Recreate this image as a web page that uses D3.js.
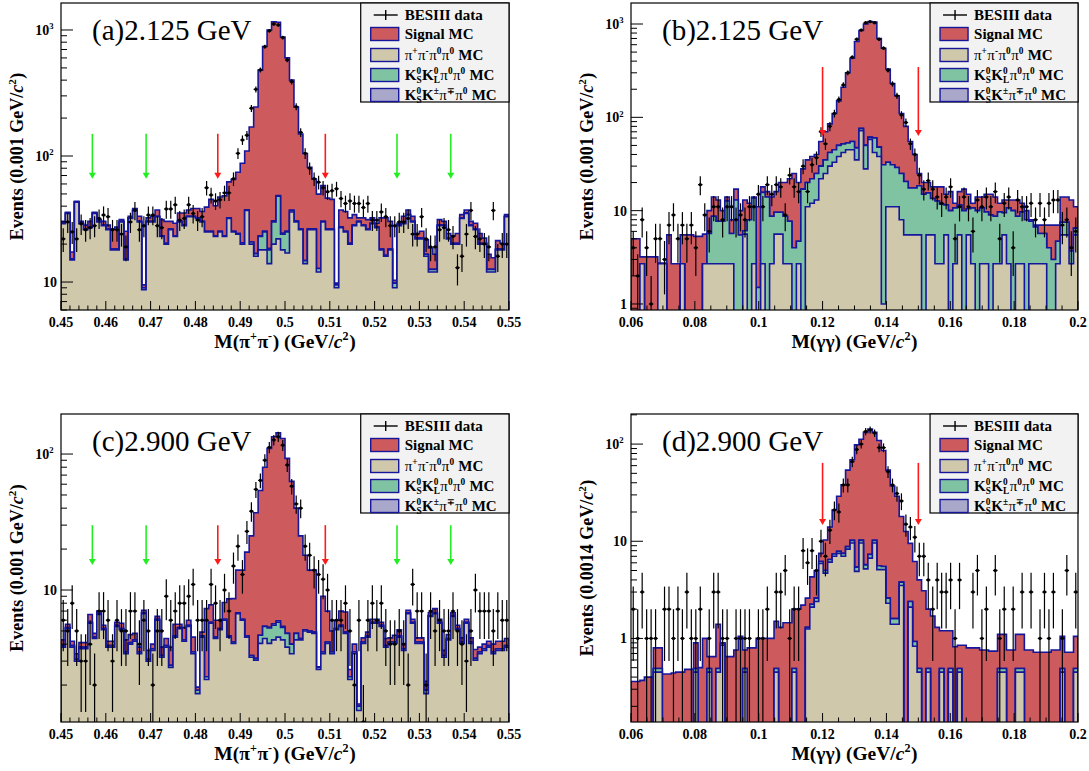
<!DOCTYPE html>
<html><head><meta charset="utf-8">
<script src="https://cdn.jsdelivr.net/npm/d3@7"></script>
<style>body{margin:0;background:#fff}svg{display:block}text{white-space:pre}</style>
</head><body>
<svg id="chart" width="1089" height="771"></svg>
<script>
// ---------------- DATA ----------------
// Panel (a): M(pi+pi-) at 2.125 GeV, 100 bins 0.45-0.55
const aRange = [0.45, 0.55];
const aBkg = [29,35,15,43,29,26,27,35,30,28, 26,18,18,30,15,32,37,30,8.7,30, 30,33,23,20,26,23,30,28,33,33,
  32,30,25,25,23,25,23,32,25,24, 20,37,20,16,18,18,14,20,22,18, 17,36,30,26,14,26,26,12,30,26,
  26,9,27,25,20,28,30,28,26,29, 27,18,16,18,9,28,29,34,30,22, 22,16,12,12,28,28,22,20,20,32,
  35,28,26,20,20,12,12,18,18,33];
const aKsKl = [0.3,0.3,0.3,0.3,0.3,0.3,0.3,0.3,0.3,0.3, 0.3,0.3,0.3,0.3,0.3,0.3,0.3,0.3,0.3,0.3,
  0.3,0.3,0.3,0.3,0.3,0.3,0.3,0.3,0.3,0.3, 0.3,0.3,0.3,0.3,0.3,0.3,0.3,0.3,0.3,0.3,
  0.5,0.5,0.8,0.8,5,7,4,10,26,6, 8,1,0.5,0.5,0.8,0.5,0.5,0.8,0.3,0.3,
  0.3,0.5,0.3,0.3,0.3,0.3,0.3,0.3,0.3,0.3, 0.3,0.3,0.3,0.3,0.8,0.3,0.3,0.3,0.3,0.3,
  0.3,0.6,0.6,0.6,0.3,0.3,0.3,0.3,0.3,0.3, 0.3,0.3,0.3,0.3,0.3,0.6,0.6,0.3,0.3,0.3];
const aKskBins = [44,45,46,47,48,49,50,51];
const aKskVals = [0.3,0.4,0.5,0.6,0.6,0.5,0.4,0.3];
const aSig = [1,0.5,2,0.5,1,2,3,0.5,1,2, 2,8,9,1,10,1,1,3,0.5,2, 3,4,8,10,4,6,5,7,4,5,
  6,6,14,20,17,22,25,30,40,50, 67,72,149,228,457,715,982,1130,1102,856,
  575,363,214,123,90,55,39,37,28,20, 19,0.3,10,11,12,6,2,4,5,3, 2,14,16,12,0.5,1,4,3,3,2,
  3,5,6,4,3,2,2,3,4,2, 2,2,3,4,2,4,3,3,2,1];
const aData = [22,30,25,22,29,26,27,28,32,34, 33,26,26,24,19,30,37,26,28,34, 34,28,27,38,38,41,31,32,41,35,
  31,33,56,49,44,45,51,51,66,105, 134,146,239,338,482,738,987,1116,1095,870,
  578,389,246,154,105,80,66,62,56,52, 53,55,46,42,44,42,42,39,42,31, 31,36,33,28,28,30,30,32,24,24,
  33,22,19,19,26,27,26,23,13,16, 24,37,23,22,20,19,37,16,20,20];

// Panel (b): M(gamma gamma) at 2.125 GeV, 100 bins 0.06-0.2
const bRange = [0.06, 0.2];
const bBkg = [0,0,2.7,0,0,0,2.7,2.7,0,0, 0,2.7,0,0,0,0,2.7,2.7,2.7,2.7, 2.7,2.7,2.7,0,0,5.6,0,2.7,0,2.7,
  0,2.7,5.6,5.6,2.7,2.7,0,2.7,0,11, 12,13,22,25,30,33,38,42,45,45, 35,72,28,58,42,38,1.0,11,11,11,
  8,5.5,5.5,5.5,5.5,0,5.5,5.5,2.7,2.7, 5.5,0,2.7,5.5,0,5.5,2.7,0,2.7,2.7, 0,2.7,2.7,5.5,2.7,0,2.7,2.7,0,2.7,
  2.7,2.7,2.7,0,0,2.7,5.5,5.5,2.7,5.5];
const bKsKl = [0,0,0,0,0,0,0,0,0,0, 0,0,0,0,0,0,0,3,6,5, 5,10,3,13,5.5,0.5,8,11,1.5,13,
  14,6,4,4,6,5,4,2,17,9, 10,12,8,10,12,12,12,10,8,10, 12,4,22,3,18,10,30,22,20,18,
  17,15,12,12,13,15,10,8,10,9, 6,10,8,6,10,5,8,10,8,7, 9,6,7,4,8,10,6,7,8,5, 4,3,3,4,3,2,2,2,1,1];
const bKskBins = [50,51,52,53,54,55];
const bKskVals = [0.4,0.5,0.6,0.6,0.5,0.4];
const bSig = [5,5,0.5,3.2,3.2,3.2,0.05,0.05,5.5,2.7, 2.7,2.8,5.5,5.5,5.3,5.3,2.9,4.3,5.3,5.3,
  2.3,1.3,2.3,4,4.5,6.9,4,0.3,9.5,2.3, 2,5.3,6.4,10.4,11.3,14.3,21,15.3,11,15, 16,15,25,35,43,65,100,158,247,375,
  603,774,950,999,990,652,519,297,199,141, 85,59.5,37.5,22.5,6.5,5,4.5,4.5,5.3,6.3,
  3.5,6,1.3,4.5,7,4.5,1.3,4,3.3,5.3, 6,5.3,2.3,3.5,2.3,3,4.3,2.3,2,0.3, 0.3,1.3,1.3,3,4,2.3,6.5,6.5,9.3,4.5];
const bData = [4,2,8,4,1,5,5,3,7,9, 5,7,5,7,4,19,9,6,11,11, 8,11,11,8,9,8,11,11,15,11,
  19,15,19,18,9,24,18,16,30,16, 31,37,70,52,80,110,155,222,300,440, 686,860,1033,1060,1030,686,550,320,228,170,
  106,88,52,40,24,17,21,17,14,12, 14,18,5,11,14,11,6,13,11,14, 11,16,5,12,14,4,13,11,11,12, 8,12,8,12,13,13,7,8,4,6];

// Panel (c): M(pi+pi-) at 2.900 GeV
const cRange = [0.45, 0.55];
const cBkg = [3.8,5.2,3.8,3.0,3.7,3.7,5.7,4.4,6.6,5.1, 3.8,3.8,5.4,5.1,3.4,4.0,4.2,3.4,6.7,3.0,
  3.6,6.0,3.2,3.8,2.7,4.5,5.2,4.2,5.4,3.4, 1.73,4.5,2.2,5.7,4.4,5.1,6.0,4.5,4.05,6.7,
  6.0,4.5,3.2,3.05,4.05,4.4,4.05,4.3,4.5,4.3, 3.8,3.4,4.3,4.3,5.0,4.9,4.8,2.6,3.4,4.05,
  3.4,5.1,5.4,4.8,2.2,3.4,1.3,4.05,4.5,5.7, 5.7,5.4,3.8,4.05,4.05,4.5,3.6,6.7,5.7,4.05,
  4.05,1.73,6.4,6.7,5.7,3.2,4.3,6.4,5.1,4.05, 5.7,4.05,3.05,3.4,3.6,3.8,3.4,3.6,3.6,3.8];
const cKsKl = [0.1,0.1,0.1,0.1,0.1,0.1,0.1,0.1,0.1,0.1, 0.1,0.1,0.1,0.1,0.1,0.1,0.1,0.1,0.1,0.1,
  0.1,0.1,0.1,0.1,0.1,0.1,0.1,0.1,0.1,0.1, 0.1,0.1,0.1,0.1,0.1,0.1,0.1,0.1,0.1,0.1,
  0.1,0.1,0.1,0.1,0.6,1.0,1.2,1.2,1.3,1.0, 1.0,0.6,0.5,0.1,0.1,0.1,0.1,0.1,0.1,0.1,
  0.1,0.1,0.1,0.1,0.1,0.1,0.1,0.1,0.1,0.1, 0.1,0.1,0.1,0.1,0.1,0.1,0.1,0.1,0.1,0.1,
  0.1,0.1,0.1,0.1,0.1,0.1,0.1,0.1,0.1,0.1, 0.1,0.1,0.1,0.1,0.1,0.1,0.1,0.1,0.1,0.1];
const cKskBins = [46,47,48,49];
const cKskVals = [0.1,0.15,0.15,0.1];
const cSig = [0.4,0.3,0.3,0.3,0.3,0.3,0.8,0.3,0.3,0.3, 0.3,0.3,0.3,0.5,0.8,0.6,0.5,0.3,0.3,0.5,
  0.3,0.3,0.5,0.5,1.0,1.0,0.3,1.0,0.5,1.0, 0.1,0.3,5,2,1.5,0.8,2,4,4.5,7.2,
  7.9,14.4,21.7,33.85,49.35,74.6,104.75,128.5,137.2,124.7, 88.2,59,35.2,20.6,12.9,9,9.1,0.02,5.5,2.85,
  1.5,0.8,1.5,2,0.3,0.5,0.05,0.3,0.3,0.3, 0.3,0.3,0.5,0.3,0.5,0.5,0.3,0.3,0.3,0.3,
  0.3,0.3,0.3,0.5,0.3,0.3,0.3,0.3,0.3,0.3, 0.3,0.3,0.5,0.3,0.3,0.3,0.5,0.5,0.5,0.5];
const cData = [6,5,8,5,3,3,4,2,7,7, 6,3,6,5,5,7,7,4,6,5, 2,5,5,9,6,7,8,8,9,11, 6,6,6,11,8,6,10,7,15,21,
  13,27,38,55,64,90,112,127,134,116, 83,58,43,40,21,18,14,13,12,10, 6,6,6,8,5,2,6,1,6,8,
  6,8,5,4,4,5,4,2,11,7, 7,2,7,5,6,5,5,7,5,4, 3,5,10,7,7,7,5,7,6,6];

// Panel (d): M(gamma gamma) at 2.900 GeV, 100 bins of 0.0014
const dRange = [0.06, 0.2];
const dBkg = [0,0,0,0,0,0.45,0.45,0,0,0, 0,0,0,0,0.45,0,0,0.45,0,0.45, 0.85,0,0,0,0,0.45,0,0,0,0,
  0,0,0.45,0,0,0,0.45,0,0,1.25, 2.1,2.4,5.9,4.7,6.1,7,7.5,7,8.3,9.6, 4.9,9.6,5.2,6.7,9.6,5.1,5.1,2.3,1.4,1.4,
  3.5,0,2.1,0.83,0.45,0,0.45,0,0,0.45, 0,0.45,0,0.45,0,0,0,0,0,0, 0,0,0.45,0.45,0,0,0.45,0.45,0,0,
  0,0,0,0,0,0,0.45,0,0,0.45];
const dKsKl = [0,0,0,0,0,0.04,0.04,0,0,0, 0,0,0,0,0.04,0,0,0.04,0,0.04, 0.04,0,0,0,0,0.04,0,0,0,0,
  0,0,0.04,0,0,0,0.04,0,0,0.05, 0.15,0.2,0.3,0.3,0.4,0.4,0.4,0.5,0.5,0.6, 0.5,0.6,0.5,0.6,0.6,0.5,0.4,0.3,0.2,0.2,
  0.3,0,0.3,0.1,0.04,0,0.04,0,0,0.04, 0,0.04,0,0.04,0,0,0,0,0,0, 0,0,0.04,0.04,0,0,0.04,0.04,0,0,
  0,0,0,0,0,0,0.04,0,0,0.04];
const dKskBins = [50,51,52,53];
const dKskVals = [0.05,0.06,0.06,0.05];
const dSig = [0.36,0.36,0.37,0.40,0.40,0.31,0.31,0.43,0.43,0.44, 0.45,0.45,0.48,0.48,0.41,0.5,1.0,0.16,0.65,0.91,
  0.01,0.65,0.65,0.76,1.05,0.27,0.8,0.8,1.0,1.0, 1.0,1.0,1.01,1.3,1.45,1.45,1.51,2.0,2.2,1.3,
  2.05,2.4,1.3,5.3,7.5,13.6,21.1,30.5,45.2,58.8, 92.6,101.8,126.3,135.7,121.8,103.4,80.5,51.4,35.4,27.4,
  14.2,12.6,7.1,5.27,3.51,3.1,1.51,1.7,1.3,0.71, 1.2,0.71,0.82,0.36,0.85,0.8,0.8,0.8,0.76,0.76,
  0.74,0.74,0.61,0.61,0.76,0.76,0.61,0.61,0.76,0.76, 0.72,0.72,0.72,0.72,0.76,0.76,0.56,0.72,0.72,0.56];
const dData = [2,1,3,1,1,1,0,2,2,1, 2,1,3,1,1,2,0,1,3,3, 1,1,0,1,1,1,1,0,1,1, 2,0,3,3,5,1,2,2,8,6,
  8,5,10,7,13,21,20,38,38,66, 88,100,135,140,130,92,92,52,38,31, 26,15,14,11,7,7,4,2,4,3,
  3,4,1,4,0,0,3,5,1,2, 0,5,1,2,0,2,0,3,0,3, 0,1,3,1,3,0,1,5,0,3];

const titles = ["(a)2.125 GeV", "(b)2.125 GeV", "(c)2.900 GeV", "(d)2.900 GeV"];
const binWidthLabels = ["0.001", "0.001", "0.001", "0.0014"];
const xTicksPiPi = [0.45,0.46,0.47,0.48,0.49,0.5,0.51,0.52,0.53,0.54,0.55];
const xTicksGG = [0.06,0.08,0.1,0.12,0.14,0.16,0.18,0.2];
const greenCuts = [0.457, 0.469, 0.525, 0.537];
const redCutsPiPi = [0.485, 0.509];
const redCutsGG = [0.12, 0.15];

// ---------------- STYLE / LAYOUT ----------------
const FONT = "'Liberation Serif','Times New Roman',serif";
const COL = {sig:"#cd5b5e", ksk:"#aaa8ca", kskl:"#80c3a2", bkg:"#cfc8aa", line:"#16169a"};

const panels = [
  {k:'a', x0:61, x1:509, y0:3, y1:310, range:aRange, ydom:[6.0,1637], bkg:aBkg, kskl:aKsKl, kskB:aKskBins, kskV:aKskVals, sig:aSig, data:aData,
   xt:xTicksPiPi, xminor:0.002, xlab:'pipi', green:greenCuts, red:redCutsPiPi, arrG:[150,66], arrR:[150,66]},
  {k:'b', x0:631, x1:1078, y0:3, y1:310, range:bRange, ydom:[0.862,1679], bkg:bBkg, kskl:bKsKl, kskB:bKskBins, kskV:bKskVals, sig:bSig, data:bData,
   xt:xTicksGG, xminor:0.005, xlab:'gg', green:[], red:redCutsGG, arrR:[346,63]},
  {k:'c', x0:61, x1:509, y0:414, y1:722, range:cRange, ydom:[1.07,197], bkg:cBkg, kskl:cKsKl, kskB:cKskBins, kskV:cKskVals, sig:cSig, data:cData,
   xt:xTicksPiPi, xminor:0.002, xlab:'pipi', green:greenCuts, red:redCutsPiPi, arrG:[30,15.3], arrR:[30,15.3]},
  {k:'d', x0:631, x1:1078, y0:414, y1:722, range:dRange, ydom:[0.138,204], bkg:dBkg, kskl:dKsKl, kskB:dKskBins, kskV:dKskVals, sig:dSig, data:dData,
   xt:xTicksGG, xminor:0.005, xlab:'gg', green:[], red:redCutsGG, arrR:[64,14.7]},
];

const svg = d3.select('#chart');

function rich(g, parts, size, weight) {
  let x = 0;
  parts.forEach(p => {
    if (typeof p === 'string') p = {t:p};
    if (p.t !== undefined) {
      const t = g.append('text').attr('x', x).attr('y', 0)
        .attr('font-family', FONT).attr('font-size', size).attr('font-weight', p.w || weight)
        .attr('font-style', p.it ? 'italic' : 'normal').attr('fill', '#000').text(p.t);
      x += t.node().getComputedTextLength();
    } else {
      const ss = size * 0.62; let w = 0;
      if (p.sup !== undefined) {
        const t = g.append('text').attr('x', x).attr('y', -size*0.4)
          .attr('font-family', FONT).attr('font-size', ss).attr('font-weight', weight).text(p.sup);
        w = Math.max(w, t.node().getComputedTextLength());
      }
      if (p.sub !== undefined) {
        const t = g.append('text').attr('x', x).attr('y', size*0.25)
          .attr('font-family', FONT).attr('font-size', ss).attr('font-weight', weight).text(p.sub);
        w = Math.max(w, t.node().getComputedTextLength());
      }
      x += w + size*0.03;
    }
  });
  return x;
}

function dense(n, bins, vals) {
  const arr = new Array(n).fill(0);
  bins.forEach((b, i) => arr[b] = vals[i]);
  return arr;
}

panels.forEach((P, pi) => {
  const n = P.bkg.length;
  const edges = d3.range(n + 1).map(i => P.range[0] + i * (P.range[1] - P.range[0]) / n);
  const x = d3.scaleLinear().domain(P.range).range([P.x0, P.x1]);
  const y = d3.scaleLog().domain(P.ydom).range([P.y1, P.y0]).clamp(true);
  const yv = v => (v > 0 ? y(v) : P.y1 + 6);
  const g = svg.append('g');
  const clipId = 'clip' + P.k;
  svg.append('clipPath').attr('id', clipId).append('rect')
    .attr('x', P.x0).attr('y', P.y0).attr('width', P.x1 - P.x0).attr('height', P.y1 - P.y0);
  const plot = g.append('g').attr('clip-path', `url(#${clipId})`);

  // stacked histograms
  const ksk = dense(n, P.kskB, P.kskV);
  const rows = d3.range(n).map(i => ({bkg:P.bkg[i]||0, kskl:P.kskl[i]||0, ksk:ksk[i]||0, sig:P.sig[i]||0}));
  const stack = d3.stack().keys(['bkg','kskl','ksk','sig'])(rows);
  const stepPath = tops => {
    let p = `M${x(edges[0])},${P.y1 + 6}`;
    tops.forEach((v, i) => { const yy = yv(v); p += `L${x(edges[i])},${yy}L${x(edges[i+1])},${yy}`; });
    p += `L${x(edges[n])},${P.y1 + 6}Z`;
    return p;
  };
  [...stack].reverse().forEach(layer => {
    const tops = layer.map(d => d[1]);
    plot.append('path').attr('d', stepPath(tops)).attr('fill', COL[layer.key])
      .attr('stroke', COL.line).attr('stroke-width', 1.6).attr('stroke-linejoin', 'miter');
  });

  // data points
  const half = (x(edges[1]) - x(edges[0])) / 2;
  P.data.forEach((v, i) => {
    if (!(v > 0)) return;
    const cx = (x(edges[i]) + x(edges[i+1])) / 2;
    const e = Math.sqrt(v);
    const lo = v - e;
    plot.append('line').attr('x1', cx).attr('x2', cx).attr('y1', lo > 0 ? y(lo) : P.y1 + 6).attr('y2', y(v + e))
      .attr('stroke', '#000').attr('stroke-width', 1.2);
    plot.append('line').attr('x1', cx - half).attr('x2', cx + half).attr('y1', y(v)).attr('y2', y(v))
      .attr('stroke', '#000').attr('stroke-width', 1.2);
    plot.append('circle').attr('cx', cx).attr('cy', y(v)).attr('r', 1.7).attr('fill', '#000');
  });

  // arrows
  const arrow = (xv, ends, color) => {
    const ax = x(xv), yt = y(ends[0]), yb = y(ends[1]);
    g.append('line').attr('x1', ax).attr('x2', ax).attr('y1', yt).attr('y2', yb - 5)
      .attr('stroke', color).attr('stroke-width', 1.6);
    g.append('path').attr('d', `M${ax-3.5},${yb-6}L${ax+3.5},${yb-6}L${ax},${yb}Z`).attr('fill', color);
  };
  P.green.forEach(v => arrow(v, P.arrG, '#22ee22'));
  P.red.forEach(v => arrow(v, P.arrR, '#ff1a1a'));

  // frame
  g.append('rect').attr('x', P.x0).attr('y', P.y0).attr('width', P.x1 - P.x0).attr('height', P.y1 - P.y0)
    .attr('fill', 'none').attr('stroke', '#000').attr('stroke-width', 1.2);

  // x ticks
  const nMinor = Math.round((P.range[1] - P.range[0]) / P.xminor);
  d3.range(nMinor + 1).forEach(i => {
    const v = P.range[0] + i * P.xminor;
    const major = P.xt.some(t => Math.abs(t - v) < 1e-9);
    g.append('line').attr('x1', x(v)).attr('x2', x(v)).attr('y1', P.y1).attr('y2', P.y1 - (major ? 9 : 4.5))
      .attr('stroke', '#000').attr('stroke-width', 1);
  });
  P.xt.forEach(t => {
    g.append('text').attr('x', x(t)).attr('y', P.y1 + 17).attr('text-anchor', 'middle')
      .attr('font-family', FONT).attr('font-weight', 'bold').attr('font-size', 14).text(String(+t.toFixed(3)));
  });

  // y ticks (log)
  const kLo = Math.floor(Math.log10(P.ydom[0])), kHi = Math.ceil(Math.log10(P.ydom[1]));
  for (let k = kLo; k <= kHi; k++) {
    for (let m = 1; m <= 9; m++) {
      const v = m * Math.pow(10, k);
      if (v < P.ydom[0] || v > P.ydom[1]) continue;
      g.append('line').attr('x1', P.x0).attr('x2', P.x0 + (m === 1 ? 12 : 6)).attr('y1', y(v)).attr('y2', y(v))
        .attr('stroke', '#000').attr('stroke-width', 1);
      if (m === 1) {
        const lg = g.append('g');
        const parts = k === 0 ? ['1'] : (k === 1 ? ['10'] : ['10', {sup: String(k)}]);
        const w = rich(lg, parts, 14, 'bold');
        lg.attr('transform', `translate(${P.x0 - (k >= 2 ? 7 : 4) - w},${y(v) + 5})`);
      }
    }
  }

  // axis titles
  const xt = g.append('g');
  const xparts = P.xlab === 'pipi'
    ? ['M(π', {sup:'+'}, 'π', {sup:'-'}, ') (GeV/', {t:'c', it:true}, {sup:'2'}, ')']
    : ['M(γγ) (GeV/', {t:'c', it:true}, {sup:'2'}, ')'];
  const xw = rich(xt, xparts, 19.5, 'bold');
  xt.attr('transform', `translate(${(P.x0 + P.x1) / 2 - xw / 2},${P.y1 + 38})`);

  const yt = g.append('g').attr('transform', `translate(${P.x0 - 38},${(P.y0 + P.y1) / 2}) rotate(-90)`);
  const yi = yt.append('g');
  const yw = rich(yi, ['Events (' + binWidthLabels[pi] + ' GeV/', {t:'c', it:true}, {sup:'2'}, ')'], 18, 'bold');
  yi.attr('transform', `translate(${-yw / 2},0)`);

  // panel title
  g.append('text').attr('x', P.x0 + 31).attr('y', P.y0 + 37).attr('font-family', FONT)
    .attr('font-size', 29).text(titles[pi]);

  // legend
  const lx = P.x0 + 0.669 * (P.x1 - P.x0), ly = P.y0, lw = P.x1 - lx, lh = 99;
  g.append('rect').attr('x', lx).attr('y', ly).attr('width', lw).attr('height', lh)
    .attr('fill', '#f2f2f2').attr('stroke', '#000').attr('stroke-width', 1.2);
  const rowsY = [12, 31, 52, 72, 92];
  const PI = {t:'π', w:'normal'};
  const entries = [
    {type:'data', parts:['BESIII data']},
    {type:'sig', parts:['Signal MC']},
    {type:'bkg', parts:[PI, {sup:'+'}, PI, {sup:'-'}, PI, {sup:'0'}, PI, {sup:'0'}, ' MC']},
    {type:'kskl', parts:['K', {sup:'0', sub:'S'}, 'K', {sup:'0', sub:'L'}, PI, {sup:'0'}, PI, {sup:'0'}, ' MC']},
    {type:'ksk', parts:['K', {sup:'0', sub:'S'}, 'K', {sup:'±'}, PI, {sup:'∓'}, PI, {sup:'0'}, ' MC']},
  ];
  entries.forEach((e, i) => {
    const cy = ly + rowsY[i];
    if (e.type === 'data') {
      g.append('line').attr('x1', lx + 13).attr('x2', lx + 37).attr('y1', cy).attr('y2', cy).attr('stroke', '#000').attr('stroke-width', 1.4);
      g.append('line').attr('x1', lx + 25).attr('x2', lx + 25).attr('y1', cy - 5).attr('y2', cy + 5).attr('stroke', '#000').attr('stroke-width', 1.4);
    } else {
      g.append('rect').attr('x', lx + 10).attr('y', cy - 6.5).attr('width', 28).attr('height', 13)
        .attr('fill', COL[e.type]).attr('stroke', COL.line).attr('stroke-width', 1.4);
    }
    const tg = g.append('g').attr('transform', `translate(${lx + 44},${cy + 4.5})`);
    rich(tg, e.parts, 15, 'bold');
  });
});
</script>
</body></html>
